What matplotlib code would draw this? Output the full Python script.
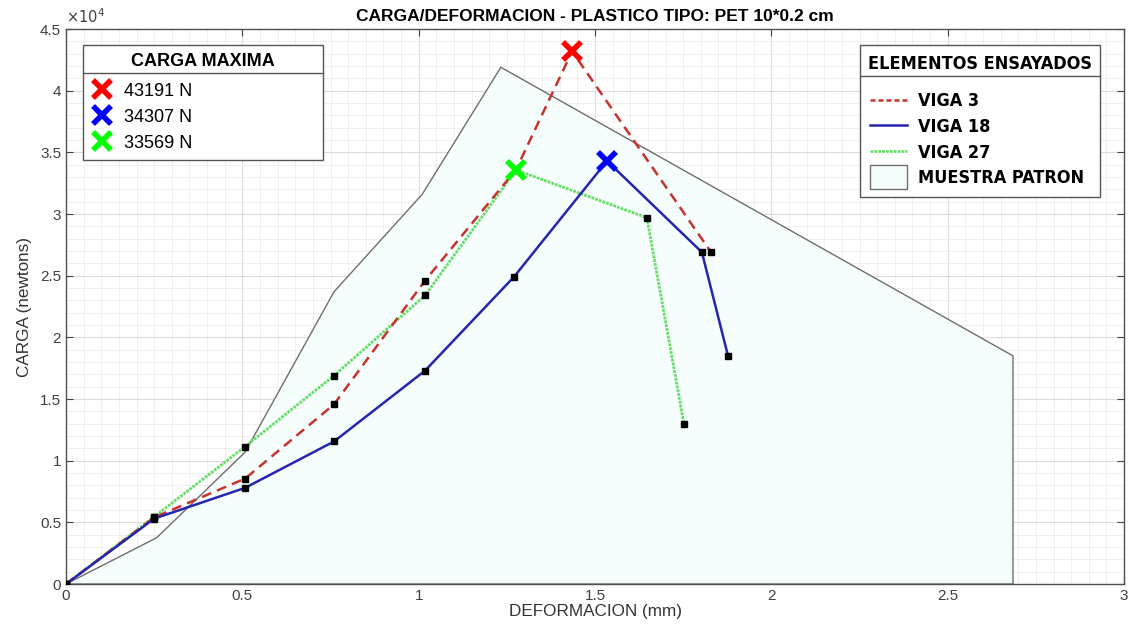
import matplotlib
matplotlib.use('Agg')
import matplotlib.pyplot as plt
from matplotlib.lines import Line2D
from matplotlib.patches import Patch, Rectangle
from matplotlib.legend_handler import HandlerPatch
from matplotlib.ticker import MultipleLocator, FuncFormatter

# deformacion (mm) / carga (N)
viga3_x = [0, 0.25, 0.508, 0.76, 1.018, 1.276, 1.435, 1.829]
viga3_y = [0, 5400, 8550, 14570, 24600, 33600, 43191, 26900]
viga18_x = [0, 0.25, 0.508, 0.76, 1.018, 1.27, 1.534, 1.803, 1.877]
viga18_y = [0, 5300, 7800, 11560, 17300, 24900, 34307, 26900, 18500]
viga27_x = [0, 0.25, 0.508, 0.76, 1.018, 1.276, 1.647, 1.752]
viga27_y = [0, 5450, 11150, 16900, 23400, 33569, 29700, 13000]
patron_x = [0, 0.257, 0.508, 0.76, 1.01, 1.233, 2.685, 2.685]
patron_y = [0, 3750, 10700, 23700, 31600, 41900, 18500, 0]

max_labels = ['43191 N', '34307 N', '33569 N']
max_x = [1.435, 1.534, 1.276]
max_y = [43191, 34307, 33569]
max_colors = ['#ff0000', '#0000ff', '#00ff00']

plt.rcParams['font.family'] = ['Liberation Sans', 'DejaVu Sans']

fig = plt.figure(figsize=(11.32, 6.38), dpi=100)
ax = fig.add_axes([0.0583, 0.0846, 0.9347, 0.8699])

fill_col = '#f6fdfd'
ax.fill(patron_x, patron_y, facecolor=fill_col, edgecolor='#6e6e6e', linewidth=1.0, zorder=2)

c3 = '#c8322c'
c18 = '#2525b0'
c27 = '#66dd66'
dot27 = (0, (1, 0.4))
ax.plot(viga3_x, viga3_y, linestyle=(0, (4, 2.5)), color=c3, linewidth=1.8,
        marker='s', markersize=4, markerfacecolor='k', markeredgecolor='k', zorder=4)
ax.plot(viga18_x, viga18_y, '-', color=c18, linewidth=1.8,
        marker='s', markersize=4, markerfacecolor='k', markeredgecolor='k', zorder=4)
ax.plot(viga27_x, viga27_y, linestyle=dot27, color=c27, linewidth=2.0,
        marker='s', markersize=4, markerfacecolor='k', markeredgecolor='k', zorder=3)

for xv, yv, col in zip(max_x, max_y, max_colors):
    ax.plot(xv, yv, marker='x', markersize=13, markeredgewidth=4, color=col, zorder=5)

ax.set_xlim(0, 3)
ax.set_ylim(0, 45000)
ax.xaxis.set_major_locator(MultipleLocator(0.5))
ax.xaxis.set_minor_locator(MultipleLocator(0.05))
ax.yaxis.set_major_locator(MultipleLocator(5000))
ax.yaxis.set_minor_locator(MultipleLocator(1000))
ax.xaxis.set_major_formatter(FuncFormatter(lambda v, p: f'{v:g}'))
ax.yaxis.set_major_formatter(FuncFormatter(lambda v, p: f'{v / 1e4:g}'))
ax.grid(True, which='major', color='#dcdcdc', linewidth=0.8, zorder=0)
ax.grid(True, which='minor', color='#ececec', linewidth=0.6, zorder=0)
ax.set_axisbelow(True)
ax.tick_params(which='major', direction='in', length=5, top=True, right=True,
               labelsize=11, labelcolor='#404040', color='#404040')
ax.tick_params(which='minor', length=0)
for s in ax.spines.values():
    s.set_color('#505050')
    s.set_linewidth(1.0)

ax.text(0.0, 1.006, r'$\times10^4$', transform=ax.transAxes, fontsize=10.5,
        color='#404040', ha='left', va='bottom')
ax.set_title('CARGA/DEFORMACION - PLASTICO TIPO: PET 10*0.2 cm', fontsize=12.5,
             fontweight='bold', pad=6)
ax.set_xlabel('DEFORMACION (mm)', fontsize=12.3, color='#333333', labelpad=1)
ax.set_ylabel('CARGA (newtons)', fontsize=12.3, color='#333333', labelpad=6)

# legend: maximum load
h1 = [Line2D([], [], linestyle='none', marker='x', markersize=13, markeredgewidth=4, color=c)
      for c in max_colors]
leg1 = ax.legend(h1, max_labels, loc='upper left', bbox_to_anchor=(0.016, 0.4, 0.227, 0.571),
                 mode='expand', title='CARGA MAXIMA', fontsize=13, fancybox=False,
                 framealpha=1, edgecolor='#555555', handlelength=1.2, handletextpad=0.6,
                 borderpad=0.45, labelspacing=0.5, borderaxespad=0)
leg1.get_title().set_fontweight('bold')
leg1.get_title().set_fontsize(13)
leg1._legend_box.align = 'center'
leg1._legend_box.sep = 9
leg1.get_frame().set_linewidth(1.0)
ax.add_artist(leg1)


def tall_box(legend, orig_handle, xdescent, ydescent, width, height, fontsize):
    h = height * 1.6
    return Rectangle((-xdescent, -ydescent - (h - height) / 2), width, h)


# legend: tested elements
cond = {'family': 'DejaVu Sans', 'stretch': 'condensed', 'weight': 'bold', 'size': 13}
h2 = [Line2D([], [], linestyle=(0, (2, 1.2)), color=c3, linewidth=1.8),
      Line2D([], [], linestyle='-', color=c18, linewidth=1.8),
      Line2D([], [], linestyle=dot27, color=c27, linewidth=2.0),
      Patch(facecolor=fill_col, edgecolor='#6e6e6e')]
leg2 = ax.legend(h2, ['VIGA 3', 'VIGA 18', 'VIGA 27', 'MUESTRA PATRON'],
                 loc='upper right', bbox_to_anchor=(0.7505, 0.4, 0.227, 0.571),
                 mode='expand', title='ELEMENTOS ENSAYADOS', prop=cond, fancybox=False,
                 framealpha=1, edgecolor='#555555', handlelength=2.05, handleheight=0.9,
                 handletextpad=0.6, borderpad=0.55, labelspacing=0.42, borderaxespad=0,
                 handler_map={Patch: HandlerPatch(patch_func=tall_box)})
leg2.get_title().set_fontproperties(cond)
leg2._legend_box.align = 'center'
leg2._legend_box.sep = 14
leg2.get_frame().set_linewidth(1.0)

# separator line below each legend title
fig.canvas.draw()
renderer = fig.canvas.get_renderer()
fw, fh = fig.bbox.width, fig.bbox.height
for leg in (leg1, leg2):
    fb = leg.get_frame().get_window_extent(renderer)
    tb = leg.get_title().get_window_extent(renderer)
    ysep = tb.y0 - 3
    fig.add_artist(Line2D([fb.x0 / fw, fb.x1 / fw], [ysep / fh, ysep / fh],
                          transform=fig.transFigure, color='#555555', linewidth=1.0))

fig.savefig('out.png', dpi=100)
